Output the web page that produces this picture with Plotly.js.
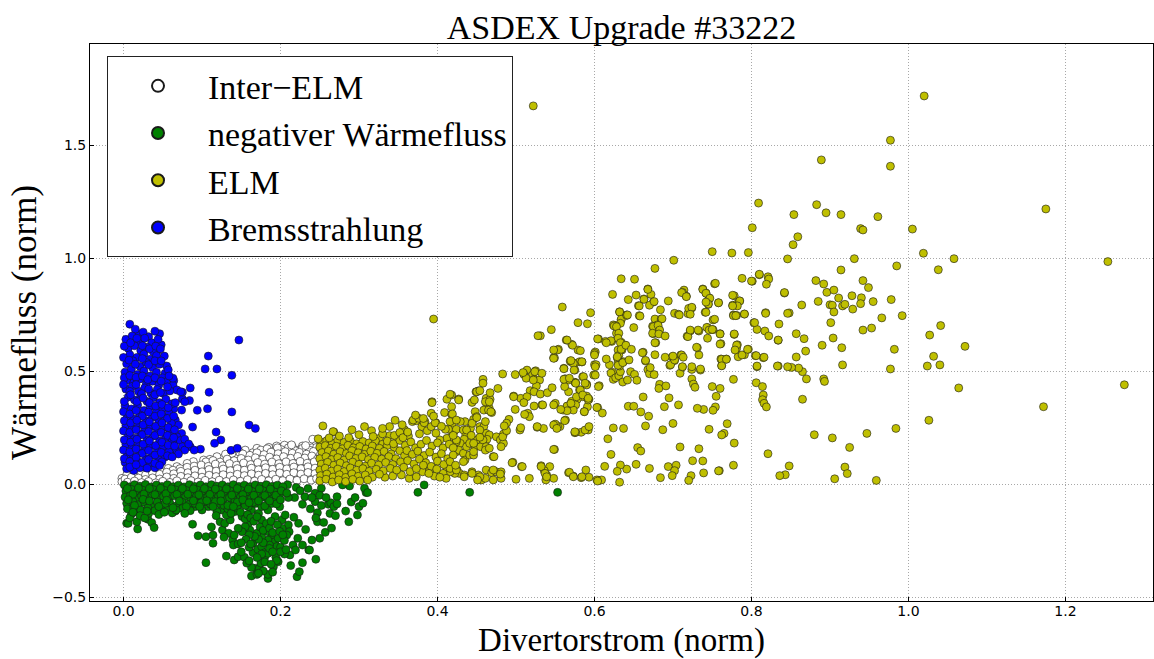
<!DOCTYPE html>
<html>
<head>
<meta charset="utf-8">
<script src="https://cdn.plot.ly/plotly-3.0.1.min.js"></script>
<style>html,body{margin:0;padding:0;background:#fff;}#chart{width:1154px;height:659px;}</style>
</head>
<body>
<div id="chart"></div>
<script>
// ---- data ----
const seriesNames = ['Inter\u2212ELM', 'negativer W\u00e4rmefluss', 'ELM', 'Bremsstrahlung'];
const xTicks = [0.0, 0.2, 0.4, 0.6, 0.8, 1.0, 1.2];
const yTicks = [-0.5, 0.0, 0.5, 1.0, 1.5];

const interElm = [
[0.241,0.198],[0.200,0.161],[0.190,0.155],[0.212,0.153],[0.223,0.150],[0.233,0.153],[0.178,0.146],[0.165,0.139],[0.157,0.128],[0.146,0.121],[0.136,0.121],[0.127,0.114],[0.119,0.121],[0.110,0.109],[0.102,0.106],[0.089,0.099],[0.081,0.091],[0.068,0.077],[0.057,0.069],[0.046,0.062],[0.034,0.058],[0.023,0.050],[0.012,0.047],[0.004,0.040],[-0.002,0.025],[-0.002,0.010],
[0.245,0.170],[0.228,0.168],[0.205,0.172],[0.215,0.165],[0.195,0.168],[0.185,0.162],[0.170,0.158],[0.155,0.150],[0.148,0.140],[0.138,0.135],[0.130,0.132],[0.240,0.160],[0.247,0.140],
[0.175,0.150],[0.183,0.156],[0.192,0.146],[0.201,0.152],[0.210,0.160],[0.219,0.147],[0.228,0.158],[0.237,0.150],[0.246,0.162],[0.232,0.170],[0.214,0.173],[0.196,0.160],
[0.152,0.133],[0.161,0.127],[0.170,0.138],[0.179,0.130],[0.188,0.141],[0.197,0.134],[0.206,0.143],[0.215,0.136],[0.224,0.140],[0.233,0.132],[0.242,0.144],
[0.105,0.098],[0.114,0.104],[0.123,0.097],[0.132,0.110],[0.141,0.103],[0.150,0.113],[0.159,0.106],[0.168,0.116],[0.177,0.109],[0.186,0.119],[0.195,0.111],[0.204,0.121],[0.213,0.114],[0.222,0.122],[0.231,0.115],[0.240,0.124],[0.247,0.110],
[0.063,0.061],[0.072,0.068],[0.081,0.074],[0.090,0.079],[0.099,0.084],[0.108,0.078],[0.117,0.088],[0.126,0.081],[0.135,0.090],[0.144,0.083],[0.153,0.093],[0.162,0.086],[0.171,0.095],[0.180,0.088],[0.189,0.097],[0.198,0.090],[0.207,0.098],[0.216,0.091],[0.225,0.100],[0.234,0.092],[0.243,0.098],
[0.028,0.040],[0.037,0.047],[0.046,0.043],[0.055,0.052],[0.064,0.045],[0.073,0.056],[0.082,0.050],[0.091,0.061],[0.100,0.054],[0.109,0.064],[0.118,0.057],[0.127,0.066],[0.136,0.059],[0.145,0.068],[0.154,0.061],[0.163,0.070],[0.172,0.063],[0.181,0.072],[0.190,0.065],[0.199,0.074],[0.208,0.067],[0.217,0.075],[0.226,0.068],[0.235,0.076],[0.244,0.070],
[0.002,0.022],[0.010,0.030],[0.019,0.026],[0.028,0.020],[0.037,0.027],[0.046,0.022],[0.055,0.031],[0.064,0.025],[0.073,0.034],[0.082,0.028],[0.091,0.036],[0.100,0.030],[0.109,0.039],[0.118,0.033],[0.127,0.041],[0.136,0.035],[0.145,0.043],[0.154,0.037],[0.163,0.045],[0.172,0.039],[0.181,0.047],[0.190,0.041],[0.199,0.049],[0.208,0.043],[0.217,0.050],[0.226,0.044],[0.235,0.051],[0.244,0.046],
[0.005,0.008],[0.014,0.013],[0.023,0.006],[0.032,0.011],[0.041,0.005],[0.050,0.012],[0.059,0.007],[0.068,0.014],[0.077,0.008],[0.086,0.015],[0.095,0.009],[0.104,0.016],[0.113,0.010],[0.122,0.017],[0.131,0.011],[0.140,0.018],[0.149,0.012],[0.158,0.019],[0.167,0.013],[0.176,0.020],[0.185,0.014],[0.194,0.021],[0.203,0.015],[0.212,0.022],[0.221,0.016],[0.230,0.023],[0.239,0.017],[0.246,0.024]
];

const negFlux = [
[0.105,-0.348],[0.163,-0.407],[0.184,-0.418],[0.184,-0.400],[0.221,-0.410],[0.224,-0.388],[0.213,-0.361],[0.228,-0.348],[0.245,-0.333],[0.236,-0.292],[0.240,-0.248],[0.257,-0.214],[0.261,-0.090],[0.263,-0.130],[0.247,-0.127],[0.247,-0.167],[0.244,-0.078],[0.231,-0.056],[0.220,-0.015],[0.209,-0.003],[0.232,-0.201],[0.223,-0.174],[0.217,-0.147],[0.210,-0.181],[0.211,-0.211],[0.212,-0.314],[0.237,-0.292],[0.216,-0.270],[0.219,-0.292],
[0.004,-0.174],[0.006,-0.174],[0.018,-0.199],[0.017,-0.167],[0.031,-0.156],[0.036,-0.171],[0.039,-0.193],[0.010,-0.134],[0.015,-0.123],[0.032,-0.130],[0.088,-0.178],[0.095,-0.229],[0.105,-0.233],[0.114,-0.226],[0.114,-0.262],
[0.123,-0.167],[0.126,-0.204],[0.129,-0.174],[0.134,-0.218],[0.139,-0.248],[0.140,-0.270],[0.141,-0.226],[0.146,-0.265],[0.131,-0.319],[0.141,-0.336],[0.146,-0.322],[0.154,-0.324],[0.165,-0.304],[0.165,-0.262],[0.171,-0.289],[0.176,-0.277],[0.180,-0.304],[0.168,-0.373],[0.163,-0.369],[0.173,-0.373],[0.180,-0.322],[0.184,-0.307],[0.194,-0.324],[0.197,-0.344],[0.191,-0.366],[0.195,-0.339],
[0.125,-0.115],[0.142,-0.122],[0.151,-0.144],[0.159,-0.174],[0.163,-0.115],[0.168,-0.086],[0.172,-0.130],[0.176,-0.159],[0.180,-0.189],[0.184,-0.211],[0.189,-0.233],[0.193,-0.255],[0.195,-0.277],[0.184,-0.248],[0.176,-0.233],[0.170,-0.218],[0.161,-0.204],[0.155,-0.189],[0.151,-0.211],[0.146,-0.196],[0.136,-0.159],[0.131,-0.137],[0.119,-0.122],[0.108,-0.100],[0.100,-0.115],[0.091,-0.100],[0.104,-0.078],[0.121,-0.086],[0.138,-0.086],[0.151,-0.086],[0.159,-0.100],[0.176,-0.100],[0.184,-0.115],[0.193,-0.144],[0.202,-0.159],[0.206,-0.137],[0.199,-0.100],[0.189,-0.086],[0.202,-0.196],[0.208,-0.226],
[0.287,-0.167],[0.298,-0.137],[0.272,-0.056],[0.264,-0.083],[0.268,-0.100],[0.272,-0.088],[0.309,-0.038],[0.307,-0.019],[0.288,-0.009],[0.279,-0.004],[0.375,-0.037],[0.383,-0.004],[0.441,-0.037],[0.553,-0.037],[0.252,-0.019],[0.311,-0.038],[0.244,-0.041],
[0.225,-0.030],[0.235,-0.020],[0.240,-0.060],[0.250,-0.050],[0.228,-0.090],[0.218,-0.060],[0.238,-0.110],[0.252,-0.095],[0.258,-0.060],[0.270,-0.140],[0.283,-0.120],[0.290,-0.080],[0.295,-0.060],[0.300,-0.100],[0.305,-0.085],[0.245,-0.150],[0.255,-0.170],[0.265,-0.195],[0.250,-0.240],[0.222,-0.240],[0.228,-0.270],[0.200,-0.280],[0.205,-0.310],[0.190,-0.390],[0.170,-0.400],[0.175,-0.350],[0.157,-0.350],[0.150,-0.300],[0.160,-0.280],[0.186,-0.270],[0.197,-0.240],[0.205,-0.250],
[0.128,-0.095],[0.133,-0.110],[0.137,-0.130],[0.145,-0.105],[0.149,-0.125],[0.155,-0.155],[0.158,-0.135],[0.162,-0.150],[0.166,-0.165],[0.170,-0.145],[0.174,-0.190],[0.178,-0.205],[0.182,-0.175],[0.186,-0.195],[0.190,-0.215],[0.188,-0.165],[0.196,-0.180],[0.199,-0.210],[0.203,-0.225],[0.178,-0.260],[0.172,-0.245],[0.167,-0.232],[0.160,-0.225],[0.156,-0.245],[0.150,-0.260],[0.162,-0.265],[0.186,-0.285],[0.190,-0.300],[0.176,-0.310],[0.170,-0.325],[0.160,-0.340],[0.180,-0.345],[0.188,-0.355],[0.178,-0.385],[0.172,-0.395],[0.200,-0.300],[0.207,-0.290],
[0.001,-0.004],[0.008,-0.012],[0.014,-0.003],[0.021,-0.010],[0.028,-0.002],[0.035,-0.013],[0.042,-0.004],[0.049,-0.011],[0.056,-0.003],[0.063,-0.012],[0.070,-0.005],[0.077,-0.013],[0.084,-0.003],[0.091,-0.011],[0.098,-0.004],[0.105,-0.012],[0.112,-0.003],[0.119,-0.010],[0.126,-0.004],[0.133,-0.012],[0.140,-0.003],[0.147,-0.011],[0.154,-0.005],[0.161,-0.012],[0.168,-0.004],[0.175,-0.010],[0.182,-0.003],[0.189,-0.011],[0.196,-0.005],[0.203,-0.012],
[0.003,-0.031],[0.010,-0.024],[0.017,-0.036],[0.024,-0.027],[0.031,-0.038],[0.038,-0.025],[0.045,-0.034],[0.052,-0.028],[0.059,-0.039],[0.066,-0.026],[0.073,-0.035],[0.080,-0.029],[0.087,-0.040],[0.094,-0.027],[0.101,-0.036],[0.108,-0.030],[0.115,-0.041],[0.122,-0.028],[0.129,-0.037],[0.136,-0.031],[0.143,-0.042],[0.150,-0.029],[0.157,-0.038],[0.164,-0.033],[0.171,-0.044],[0.178,-0.030],[0.185,-0.040],[0.192,-0.035],[0.199,-0.046],
[0.002,-0.058],[0.009,-0.050],[0.016,-0.062],[0.023,-0.053],[0.030,-0.064],[0.037,-0.051],[0.044,-0.060],[0.051,-0.055],[0.058,-0.066],[0.065,-0.052],[0.072,-0.061],[0.079,-0.056],[0.086,-0.067],[0.093,-0.054],[0.100,-0.063],[0.107,-0.058],[0.114,-0.069],[0.121,-0.055],[0.128,-0.064],[0.135,-0.060],[0.142,-0.071],[0.149,-0.057],[0.156,-0.066],[0.163,-0.062],[0.170,-0.073],[0.177,-0.059],[0.184,-0.068],[0.191,-0.064],[0.210,-0.060],
[0.004,-0.085],[0.012,-0.078],[0.019,-0.092],[0.027,-0.082],[0.035,-0.095],[0.043,-0.080],[0.051,-0.090],[0.059,-0.084],[0.067,-0.097],[0.075,-0.081],[0.083,-0.091],[0.091,-0.086],[0.099,-0.083],[0.111,-0.090],[0.117,-0.078],[0.133,-0.095],[0.145,-0.080],[0.155,-0.095],[0.165,-0.082],[0.180,-0.097],[0.195,-0.088],
[0.005,-0.110],[0.013,-0.104],[0.022,-0.115],[0.031,-0.106],[0.040,-0.118],[0.048,-0.108],[0.056,-0.114],[0.066,-0.120],[0.075,-0.108],[0.085,-0.118],[0.021,-0.140],[0.027,-0.150],[0.008,-0.150],[0.045,-0.135],[0.062,-0.128],[0.067,-0.115],[0.053,-0.086],
[0.005,-0.020],[0.012,-0.045],[0.019,-0.018],[0.026,-0.044],[0.033,-0.020],[0.040,-0.047],[0.047,-0.019],[0.054,-0.043],[0.061,-0.021],[0.068,-0.046],[0.075,-0.020],[0.082,-0.045],[0.089,-0.021],[0.096,-0.048],[0.103,-0.020],[0.110,-0.046],[0.117,-0.022],[0.124,-0.047],[0.131,-0.021],[0.138,-0.049],[0.145,-0.020],[0.152,-0.047],[0.159,-0.022],[0.166,-0.050],[0.173,-0.021],[0.180,-0.051],[0.187,-0.022],[0.194,-0.050],[0.201,-0.030],[0.208,-0.040],
[0.006,-0.070],[0.014,-0.095],[0.025,-0.068],[0.033,-0.075],[0.045,-0.100],[0.055,-0.072],[0.063,-0.105],[0.071,-0.075],[0.080,-0.100],[0.089,-0.074],[0.097,-0.100],[0.106,-0.074],[0.114,-0.100],[0.124,-0.075],[0.140,-0.100],[0.152,-0.070],[0.160,-0.083],[0.172,-0.075],[0.186,-0.075],[0.200,-0.070],
[0.012,-0.125],[0.030,-0.120],[0.052,-0.125],[0.078,-0.130],[0.118,-0.140],[0.128,-0.235],[0.112,-0.190]
];

const elm = [
[1.020,1.717],[0.522,1.673],[0.977,1.521],[0.977,1.406],[0.889,1.434],[1.175,1.217],[0.809,1.243],[0.883,1.236],[0.854,1.192],[0.895,1.200],[0.914,1.192],[0.961,1.183],[0.801,1.134],[0.859,1.094],[0.853,1.059],[0.939,1.130],[0.942,1.124],[1.005,1.128],[0.750,1.028],[0.775,1.022],[0.796,1.024],[1.019,1.021],[1.058,0.997],[1.254,0.984],[0.701,0.990],[0.677,0.954],[0.846,0.996],[0.931,0.997],[0.985,0.965],[1.038,0.948],[0.914,0.947],[0.559,0.783],[0.395,0.730],
[0.623,0.839],[0.634,0.908],[0.651,0.906],[0.668,0.863],[0.672,0.839],[0.653,0.836],[0.643,0.816],[0.663,0.819],[0.675,0.805],[0.670,0.791],[0.656,0.789],[0.632,0.762],[0.641,0.748],[0.657,0.745],[0.634,0.726],[0.624,0.704],[0.579,0.714],[0.591,0.709],[0.684,0.771],[0.677,0.730],[0.685,0.730],[0.680,0.704],[0.694,0.810],[0.714,0.858],[0.712,0.848],[0.717,0.831],[0.702,0.755],[0.707,0.751],[0.719,0.754],[0.722,0.777],[0.724,0.779],[0.738,0.863],[0.742,0.845],[0.746,0.824],[0.745,0.810],[0.745,0.795],[0.753,0.886],[0.758,0.802],[0.741,0.760],[0.751,0.726],[0.778,0.833],[0.776,0.791],[0.781,0.795],[0.785,0.810],[0.777,0.748],[0.781,0.746],[0.791,0.752],[0.788,0.910],[0.801,0.897],[0.810,0.926],[0.821,0.917],[0.822,0.907],[0.819,0.884],[0.818,0.758],[0.803,0.714],[0.835,0.708],[0.842,0.845],[0.848,0.757],[0.864,0.792],[0.882,0.900],[0.892,0.885],[0.896,0.848],[0.905,0.858],[0.885,0.808],[0.900,0.793],[0.903,0.791],[0.905,0.761],[0.916,0.788],[0.919,0.795],[0.911,0.823],[0.928,0.833],[0.929,0.774],[0.940,0.824],[0.939,0.798],[0.942,0.900],[0.949,0.869],[0.955,0.807],[0.901,0.714],[0.966,0.735],[0.978,0.816],[0.992,0.745],[1.041,0.701],[0.942,0.681],[0.953,0.690],
[1.275,0.439],[1.172,0.342],[1.064,0.425],[1.026,0.282],[1.072,0.609],[1.027,0.659],[1.032,0.565],[1.024,0.522],[1.040,0.527],[0.982,0.596],[0.977,0.509],[0.984,0.246],[0.947,0.224],[0.925,0.162],[0.919,0.075],[0.922,0.046],[0.906,0.023],[0.959,0.016],[0.903,0.204],[0.880,0.218],[0.865,0.375],[0.892,0.465],[0.893,0.454],[0.916,0.527],[0.915,0.603],[0.904,0.646],[0.890,0.614],[0.869,0.588],[0.870,0.465],[0.865,0.497],[0.860,0.513],[0.851,0.516],[0.857,0.665],[0.867,0.643],[0.857,0.562],[0.834,0.636],[0.834,0.522],[0.848,0.080],[0.843,0.041],[0.836,0.037],[0.821,0.134],[0.806,0.448],[0.814,0.431],[0.815,0.394],[0.814,0.373],[0.816,0.357],[0.819,0.341],[0.807,0.519],[0.805,0.568],[0.815,0.559],[0.807,0.684],[0.817,0.677],[0.822,0.655],[0.796,0.596],[0.791,0.572],[0.783,0.563],[0.782,0.616],[0.781,0.599],[0.778,0.662],[0.777,0.463],[0.778,0.181],[0.777,0.083],[0.769,0.267],[0.765,0.224],[0.762,0.217],[0.759,0.059],[0.746,0.242],[0.768,0.553],[0.761,0.553],[0.762,0.524],[0.760,0.423],[0.755,0.388],[0.750,0.431],[0.754,0.341],[0.751,0.326],[0.739,0.330],[0.731,0.335],[0.761,0.621],[0.760,0.665],[0.751,0.683],[0.744,0.692],[0.744,0.645],[0.733,0.677],[0.733,0.571],[0.731,0.603],[0.735,0.504],[0.724,0.507],[0.724,0.465],[0.726,0.442],[0.728,0.428],[0.733,0.156],[0.725,0.103],[0.738,0.102],[0.739,0.049],[0.723,0.037],[0.720,0.016],[0.758,0.058],[0.718,0.654],[0.722,0.677],[0.709,0.490],[0.712,0.518],[0.710,0.571],[0.709,0.164],[0.707,0.350],[0.699,0.562],[0.702,0.546],[0.696,0.525],[0.690,0.561],[0.695,0.381],[0.689,0.342],[0.700,0.268],[0.687,0.240],[0.694,0.077],[0.704,0.083],[0.702,0.059],[0.699,0.037],[0.684,0.028],[0.683,0.441],[0.682,0.423],[0.691,0.434],[0.678,0.625],[0.674,0.698],[0.675,0.665],[0.681,0.668],[0.682,0.685],[0.668,0.506],[0.670,0.488],[0.676,0.484],[0.665,0.544],[0.662,0.583],[0.662,0.385],[0.669,0.300],[0.665,0.257],[0.670,0.069],[0.655,0.161],[0.659,0.146],[0.653,0.087],[0.641,0.066],[0.633,0.084],[0.632,0.008],[0.637,0.246],[0.624,0.248],[0.617,0.200],[0.621,0.131],[0.613,0.078],[0.643,0.344],[0.650,0.344],[0.659,0.319],
[0.623,0.494],[0.621,0.491],[0.624,0.463],[0.627,0.470],[0.631,0.479],[0.633,0.497],[0.636,0.451],[0.642,0.460],[0.646,0.497],[0.651,0.485],[0.654,0.459],[0.630,0.538],[0.637,0.541],[0.632,0.522],[0.619,0.528],[0.630,0.593],[0.635,0.593],[0.631,0.569],[0.629,0.559],[0.628,0.667],[0.634,0.627],[0.639,0.614],[0.632,0.761],[0.634,0.729],[0.633,0.711],[0.641,0.746],[0.627,0.701],[0.622,0.631],[0.614,0.631],[0.605,0.642],[0.595,0.758],[0.601,0.584],[0.606,0.435],[0.604,0.338],[0.610,0.314],[0.629,0.056],[0.605,0.016],[0.609,0.018],
[0.564,0.637],[0.571,0.618],[0.579,0.593],[0.570,0.541],[0.575,0.534],[0.581,0.541],[0.561,0.512],[0.575,0.504],[0.563,0.465],[0.575,0.450],[0.585,0.475],[0.590,0.441],[0.581,0.416],[0.585,0.386],[0.593,0.375],[0.578,0.375],[0.571,0.366],[0.566,0.345],[0.560,0.327],[0.563,0.283],[0.556,0.254],[0.591,0.342],[0.587,0.320],[0.600,0.578],[0.600,0.528],[0.575,0.227],[0.583,0.229],[0.592,0.239],[0.567,0.050],[0.573,0.035],[0.583,0.028],[0.589,0.062],[0.593,0.030],
[0.810,0.928],[0.800,0.898],[0.754,0.888],[0.531,0.656],[0.545,0.683],[0.668,0.861],[0.676,0.807],[0.663,0.817],[0.657,0.788],[0.658,0.743],[0.642,0.748],[0.625,0.699],[0.628,0.696],[0.650,0.692],[0.686,0.731],[0.675,0.696],[0.681,0.702],[0.683,0.681],[0.674,0.667],[0.682,0.664],[0.690,0.655],[0.677,0.625],[0.631,0.667],[0.630,0.645],[0.633,0.625],[0.634,0.596],[0.640,0.614],[0.647,0.596],[0.621,0.634],[0.615,0.625],[0.615,0.553],[0.629,0.563],[0.630,0.525],[0.636,0.537],[0.644,0.549],[0.661,0.581],[0.665,0.547],[0.671,0.515],[0.677,0.572],[0.697,0.528],[0.702,0.549],[0.700,0.566],[0.711,0.571],[0.713,0.561],[0.712,0.519],[0.724,0.519],[0.735,0.509],[0.730,0.605],[0.719,0.652],[0.722,0.681],[0.732,0.681],[0.743,0.693],[0.746,0.681],[0.750,0.684],[0.760,0.664],[0.760,0.619],[0.753,0.729],[0.742,0.760],[0.720,0.777],[0.724,0.782],[0.722,0.751],[0.708,0.748],[0.711,0.847],[0.717,0.829],[0.738,0.861],[0.742,0.844],[0.747,0.822],[0.745,0.796],[0.742,0.805],[0.758,0.802],[0.776,0.835],[0.785,0.810],[0.782,0.788],[0.776,0.788],[0.777,0.745],[0.780,0.745],[0.791,0.752],[0.778,0.664],[0.781,0.614],[0.779,0.593],[0.788,0.571],[0.795,0.596],[0.806,0.568],[0.816,0.561],[0.807,0.522],[0.762,0.552],[0.768,0.552],[0.762,0.523],[0.804,0.714],[0.818,0.755],[0.842,0.847],[0.846,0.755],[0.834,0.637],[0.833,0.522],[0.846,0.519],[0.572,0.614],[0.582,0.590],[0.554,0.596],[0.548,0.559],[0.569,0.544],[0.573,0.534],[0.584,0.540],[0.600,0.571],[0.602,0.528],
[0.528,0.656],[0.565,0.637],[0.553,0.593],[0.549,0.558],[0.570,0.546],[0.574,0.504],[0.584,0.541],[0.561,0.510],[0.586,0.475],[0.562,0.465],[0.567,0.460],[0.576,0.448],[0.590,0.438],[0.599,0.482],[0.601,0.519],[0.604,0.642],[0.582,0.416],[0.590,0.389],[0.592,0.372],[0.587,0.320],[0.576,0.350],[0.565,0.345],[0.562,0.280],[0.550,0.357],[0.553,0.254],[0.550,0.265],[0.549,0.153],[0.543,0.077],[0.532,0.081],[0.536,0.059],[0.539,0.040],[0.538,0.018],[0.548,0.025],[0.568,0.052],[0.573,0.032],[0.603,0.018],[0.576,0.229],[0.605,0.431],[0.527,0.251],[0.535,0.246],
[0.514,0.504],[0.525,0.501],[0.521,0.482],[0.510,0.485],[0.513,0.468],[0.523,0.463],[0.530,0.460],[0.526,0.434],[0.518,0.413],[0.523,0.408],[0.506,0.379],[0.497,0.389],[0.514,0.386],[0.531,0.398],[0.540,0.404],[0.533,0.350],[0.523,0.345],[0.515,0.313],[0.517,0.298],[0.511,0.308],[0.510,0.360],[0.499,0.330],[0.546,0.426],[0.483,0.487],[0.499,0.484],[0.477,0.423],
[0.458,0.463],[0.458,0.446],[0.452,0.412],[0.449,0.408],[0.444,0.361],[0.447,0.372],[0.462,0.379],[0.467,0.375],[0.463,0.345],[0.466,0.335],[0.469,0.316],[0.459,0.327],[0.448,0.320],[0.446,0.286],[0.450,0.298],[0.454,0.254],[0.459,0.254],[0.462,0.224],[0.466,0.217],[0.463,0.198],[0.491,0.286],[0.488,0.269],[0.484,0.221],[0.475,0.209],[0.480,0.195],[0.484,0.180],[0.481,0.165],[0.471,0.121],[0.442,0.246],[0.436,0.217],[0.434,0.198],[0.429,0.180],[0.424,0.187],[0.418,0.209],[0.418,0.394],[0.418,0.342],[0.419,0.269],[0.427,0.376],[0.421,0.231],[0.435,0.276],[0.444,0.269],[0.424,0.143],[0.427,0.150],[0.433,0.136],[0.437,0.165],[0.441,0.180],[0.448,0.165],[0.450,0.195],[0.455,0.165],[0.458,0.195],[0.462,0.165],[0.435,0.106],[0.441,0.128],[0.446,0.128],[0.425,0.062],[0.428,0.047],[0.434,0.040],[0.422,0.047],[0.444,0.054],[0.452,0.040],[0.456,0.018],[0.462,0.062],[0.469,0.050],[0.475,0.054],[0.481,0.054],[0.481,0.025],[0.471,0.018],[0.461,0.025],[0.496,0.096],[0.507,0.077],[0.500,0.021],[0.517,0.025],
[0.509,0.493],[0.524,0.497],[0.533,0.490],[0.522,0.460],[0.450,0.408],[0.454,0.413],[0.467,0.404],[0.393,0.364],[0.412,0.375],[0.416,0.397],[0.427,0.372],[0.461,0.364],[0.466,0.364],[0.465,0.327],[0.468,0.320],[0.409,0.316],[0.418,0.308],[0.450,0.294],[0.461,0.276],[0.429,0.276],[0.414,0.242],[0.424,0.242],[0.433,0.239],[0.437,0.239],[0.454,0.239],[0.443,0.215],[0.454,0.207],[0.446,0.180],[0.461,0.150],[0.446,0.143],[0.433,0.099],[0.412,0.069],[0.416,0.054],[0.434,0.032],[0.444,0.047],[0.454,0.032],[0.451,0.018],[0.471,0.062],[0.480,0.044],[0.472,0.121],[0.466,0.158],[0.483,0.209],[0.488,0.236],[0.485,0.257],[0.497,0.386],[0.505,0.239],[0.506,0.249],[0.495,0.094],[0.508,0.077],[0.532,0.077],[0.537,0.047],[0.539,0.032],[0.584,0.032],[0.604,0.013],[0.548,0.153],[0.575,0.231],[0.588,0.239],[0.593,0.254],[0.603,0.339],[0.573,0.327],[0.565,0.324],[0.548,0.261],[0.552,0.246],[0.527,0.254],[0.534,0.350],[0.548,0.350],[0.557,0.330],[0.570,0.357],[0.577,0.386],[0.585,0.394],[0.592,0.379],[0.567,0.408],[0.562,0.431],[0.561,0.463],[0.568,0.468],[0.576,0.446],[0.588,0.446],[0.601,0.482],[0.548,0.556],[0.548,0.593],
[0.254,0.257],[0.268,0.230],[0.291,0.240],[0.307,0.254],[0.316,0.236],[0.339,0.254],[0.339,0.214],[0.326,0.202],[0.348,0.202],[0.358,0.239],[0.363,0.212],[0.368,0.276],[0.373,0.280],[0.380,0.254],[0.384,0.276],[0.387,0.236],[0.392,0.254],[0.398,0.271],[0.393,0.360],[0.392,0.313],[0.419,0.310],[0.416,0.276],[0.424,0.283],[0.410,0.242],[0.412,0.202],[0.424,0.195],[0.403,0.195],[0.333,0.030],[0.343,0.035],[0.354,0.040],[0.364,0.025],[0.373,0.032],[0.381,0.054],[0.390,0.062],[0.396,0.035],[0.407,0.047],[0.416,0.069],[0.411,0.025],[0.424,0.062],[0.369,0.283],[0.376,0.291],[0.383,0.271],[0.397,0.271],[0.357,0.242],[0.267,0.232],
[0.251,0.186],[0.259,0.192],[0.266,0.181],[0.273,0.194],[0.281,0.184],[0.289,0.190],[0.297,0.178],[0.305,0.188],[0.313,0.182],[0.321,0.191],[0.330,0.176],
[0.250,0.163],[0.257,0.170],[0.264,0.158],[0.271,0.167],[0.279,0.156],[0.286,0.171],[0.293,0.160],[0.301,0.166],[0.309,0.155],[0.317,0.168],[0.326,0.158],[0.336,0.170],[0.345,0.161],
[0.253,0.139],[0.261,0.146],[0.268,0.132],[0.276,0.143],[0.284,0.135],[0.291,0.148],[0.299,0.138],[0.307,0.131],[0.315,0.145],[0.323,0.136],[0.332,0.144],[0.341,0.133],[0.352,0.147],
[0.250,0.112],[0.258,0.121],[0.265,0.108],[0.273,0.117],[0.281,0.106],[0.288,0.124],[0.296,0.113],[0.304,0.120],[0.312,0.108],[0.320,0.118],[0.329,0.110],[0.338,0.121],[0.347,0.112],[0.358,0.125],
[0.252,0.088],[0.260,0.096],[0.268,0.083],[0.276,0.093],[0.284,0.081],[0.292,0.097],[0.300,0.087],[0.308,0.079],[0.316,0.092],[0.325,0.084],[0.334,0.095],[0.343,0.086],[0.353,0.098],
[0.250,0.062],[0.257,0.070],[0.265,0.057],[0.273,0.066],[0.281,0.055],[0.289,0.071],[0.297,0.061],[0.305,0.068],[0.313,0.056],[0.322,0.065],[0.331,0.058],[0.340,0.069],
[0.251,0.037],[0.259,0.044],[0.267,0.031],[0.275,0.041],[0.283,0.029],[0.291,0.045],[0.299,0.034],[0.308,0.040],[0.317,0.030],[0.326,0.043],
[0.250,0.014],[0.258,0.021],[0.266,0.009],[0.274,0.018],[0.283,0.011],[0.292,0.020],[0.301,0.013],[0.311,0.018],
[0.336,0.190],[0.344,0.178],[0.352,0.193],[0.359,0.171],[0.366,0.186],[0.372,0.160],[0.379,0.176],[0.386,0.193],[0.393,0.168],[0.400,0.182],[0.407,0.160],[0.415,0.176],[0.420,0.160],
[0.361,0.148],[0.368,0.131],[0.375,0.145],[0.383,0.126],[0.390,0.141],[0.398,0.119],[0.405,0.134],[0.413,0.112],[0.420,0.128],
[0.362,0.103],[0.370,0.089],[0.377,0.110],[0.385,0.094],[0.392,0.078],[0.400,0.101],[0.408,0.086],[0.416,0.099],[0.423,0.083],
[0.348,0.062],[0.357,0.074],[0.365,0.055],[0.373,0.068],[0.382,0.083],[0.389,0.047],[0.399,0.066],[0.403,0.030],
[0.345,0.215],[0.352,0.228],[0.356,0.205],[0.330,0.222],[0.318,0.210],[0.300,0.218],[0.287,0.205],[0.275,0.212],[0.262,0.204],[0.248,0.200],
[0.330,0.246],[0.362,0.230],[0.377,0.222],[0.398,0.225],[0.405,0.255],[0.420,0.215],[0.395,0.300],[0.372,0.305],[0.382,0.290],[0.355,0.262],[0.346,0.282]
];

const brems = [
[0.008,0.707],[0.147,0.637],[0.108,0.566],[0.104,0.509],[0.119,0.509],[0.138,0.481],[0.085,0.425],[0.109,0.406],[0.084,0.369],[0.094,0.326],[0.107,0.333],[0.138,0.319],[0.088,0.252],[0.118,0.230],[0.160,0.261],[0.168,0.246],[0.124,0.195],[0.116,0.180],[0.137,0.149],[0.145,0.158],[0.098,0.154],[0.064,0.333],[0.075,0.376],[0.075,0.406],[0.064,0.457],[0.063,0.437],[0.055,0.522],[0.046,0.665],[0.032,0.652],[0.019,0.664],[0.048,0.616],[0.043,0.590],[0.052,0.566],[0.053,0.490],[0.063,0.468],[0.068,0.416],[0.073,0.408],[0.078,0.364],[0.074,0.327],[0.066,0.283],[0.070,0.261],[0.074,0.224],[0.068,0.209],[0.063,0.183],[0.072,0.192],[0.078,0.198],[0.075,0.165],[0.085,0.165],[0.090,0.150],[0.078,0.150],[0.066,0.150],[0.059,0.136],[0.070,0.133],[0.083,0.177],
[0.015,0.685],[0.025,0.672],[0.040,0.676],
[0.003,0.640],[0.011,0.655],[0.020,0.628],[0.027,0.645],[0.036,0.625],[0.044,0.640],
[0.006,0.600],[0.014,0.612],[0.022,0.590],[0.030,0.605],[0.038,0.585],[0.008,0.572],[0.017,0.560],[0.026,0.575],[0.034,0.552],[0.042,0.568],
[0.004,0.532],[0.012,0.545],[0.021,0.520],[0.029,0.538],[0.037,0.515],[0.046,0.530],
[0.002,0.495],[0.010,0.508],[0.018,0.485],[0.026,0.500],[0.034,0.478],[0.042,0.494],[0.050,0.470],
[0.005,0.460],[0.013,0.448],[0.021,0.465],[0.029,0.442],[0.037,0.455],[0.045,0.438],[0.054,0.452],
[0.003,0.420],[0.011,0.432],[0.019,0.410],[0.027,0.425],[0.035,0.402],[0.043,0.418],[0.051,0.400],[0.059,0.412],
[0.006,0.385],[0.014,0.372],[0.022,0.390],[0.030,0.365],[0.038,0.382],[0.046,0.360],[0.054,0.375],[0.062,0.355],
[0.002,0.345],[0.010,0.332],[0.018,0.350],[0.026,0.325],[0.034,0.342],[0.042,0.318],[0.050,0.335],[0.058,0.312],
[0.005,0.300],[0.013,0.288],[0.021,0.305],[0.029,0.280],[0.037,0.296],[0.045,0.275],[0.053,0.292],[0.061,0.270],
[0.003,0.258],[0.011,0.245],[0.019,0.262],[0.027,0.238],[0.035,0.255],[0.043,0.232],[0.051,0.250],[0.059,0.228],
[0.006,0.215],[0.014,0.202],[0.022,0.220],[0.030,0.196],[0.038,0.212],[0.046,0.190],[0.054,0.206],[0.062,0.188],
[0.003,0.175],[0.011,0.162],[0.019,0.180],[0.027,0.155],[0.035,0.170],[0.043,0.148],[0.051,0.165],[0.058,0.142],
[0.005,0.132],[0.013,0.120],[0.021,0.138],[0.029,0.112],[0.037,0.128],[0.045,0.106],[0.053,0.120],[0.049,0.098],
[0.002,0.095],[0.010,0.082],[0.018,0.100],[0.026,0.076],[0.034,0.090],[0.040,0.072],[0.004,0.068],[0.013,0.060],[0.021,0.072],
[0.001,0.610],[0.009,0.625],[0.017,0.645],[0.024,0.612],[0.033,0.598],[0.041,0.610],[0.047,0.598],
[0.000,0.560],[0.007,0.548],[0.015,0.530],[0.024,0.555],[0.032,0.528],[0.040,0.545],[0.048,0.545],[0.057,0.505],
[0.001,0.470],[0.008,0.480],[0.016,0.472],[0.024,0.478],[0.031,0.462],[0.040,0.470],[0.048,0.455],[0.058,0.478],
[0.000,0.440],[0.008,0.410],[0.016,0.440],[0.023,0.400],[0.032,0.420],[0.040,0.395],[0.047,0.405],[0.056,0.430],
[0.001,0.365],[0.009,0.395],[0.017,0.365],[0.025,0.380],[0.033,0.360],[0.041,0.345],[0.049,0.352],[0.057,0.338],[0.066,0.360],
[0.000,0.320],[0.008,0.310],[0.016,0.325],[0.024,0.300],[0.032,0.318],[0.040,0.300],[0.048,0.310],[0.056,0.290],[0.064,0.300],
[0.001,0.280],[0.009,0.270],[0.017,0.282],[0.025,0.262],[0.033,0.275],[0.041,0.255],[0.049,0.270],[0.057,0.250],[0.065,0.240],
[0.000,0.235],[0.008,0.228],[0.016,0.240],[0.024,0.218],[0.032,0.232],[0.040,0.215],[0.048,0.228],[0.056,0.215],[0.064,0.205],
[0.001,0.195],[0.009,0.185],[0.017,0.198],[0.025,0.176],[0.033,0.190],[0.041,0.170],[0.049,0.185],[0.057,0.172],[0.065,0.168],
[0.000,0.150],[0.008,0.142],[0.016,0.155],[0.024,0.135],[0.032,0.148],[0.040,0.128],[0.048,0.140],[0.056,0.125],[0.062,0.120],
[0.001,0.112],[0.008,0.100],[0.016,0.118],[0.024,0.095],[0.032,0.108],[0.040,0.092],[0.046,0.082],[0.030,0.070],[0.008,0.075],[0.016,0.085]
];

const seriesData = [interElm, negFlux, elm, brems];
const seriesColors = ['#ffffff', '#008000', '#bfbf00', '#0000ff'];

// ---- chart ----
const serif = 'Liberation Serif, Times New Roman, serif';
const traces = seriesData.map((pts, i) => ({
  type: 'scatter',
  mode: 'markers',
  name: seriesNames[i],
  legendgroup: 'g' + i,
  x: pts.map(p => p[0]),
  y: pts.map(p => p[1]),
  marker: {size: 8, color: seriesColors[i], line: {color: '#1a1a1a', width: 0.6}},
  hoverinfo: 'x+y'
}));

const axisCommon = {
  showline: true, linecolor: '#000', linewidth: 1, mirror: true,
  ticks: 'inside', ticklen: 4, tickcolor: '#000', tickwidth: 1,
  showgrid: true, gridcolor: '#a8a8a8', griddash: '1px,2px', gridwidth: 1,
  zeroline: false, tickformat: '.1f',
  tickfont: {family: 'DejaVu Sans, sans-serif', size: 14, color: '#000'}
};

const layout = {
  width: 1154, height: 659,
  margin: {l: 90, r: 1, t: 44, b: 58},
  paper_bgcolor: '#fff', plot_bgcolor: '#fff',
  title: {text: 'ASDEX Upgrade #33222', font: {family: serif, size: 34, color: '#000'},
          x: 0.5, xref: 'paper', xanchor: 'center', y: 1 - 27/659, yref: 'container', yanchor: 'middle'},
  xaxis: Object.assign({}, axisCommon, {
    range: [-0.0427, 1.3115], tickvals: xTicks, ticklabelstandoff: -3,
    title: {text: 'Divertorstrom (norm)', font: {family: serif, size: 33, color: '#000'}, standoff: 12}
  }),
  yaxis: Object.assign({}, axisCommon, {
    range: [-0.5177, 1.9469], tickvals: yTicks,
    title: {text: 'W\u00e4rmefluss (norm)', font: {family: serif, size: 35, color: '#000'}, standoff: 4}
  }),
  showlegend: true,
  legend: {
    x: 0.016, y: 0.978, xanchor: 'left', yanchor: 'top',
    bgcolor: '#fff', bordercolor: '#222', borderwidth: 1,
    font: {family: serif, size: 34, color: '#000'},
    itemsizing: 'constant', itemwidth: 90, tracegroupgap: 0,
    traceorder: 'normal'
  }
};

Plotly.newPlot('chart', traces, layout, {staticPlot: true, displayModeBar: false});
</script>
</body>
</html>
